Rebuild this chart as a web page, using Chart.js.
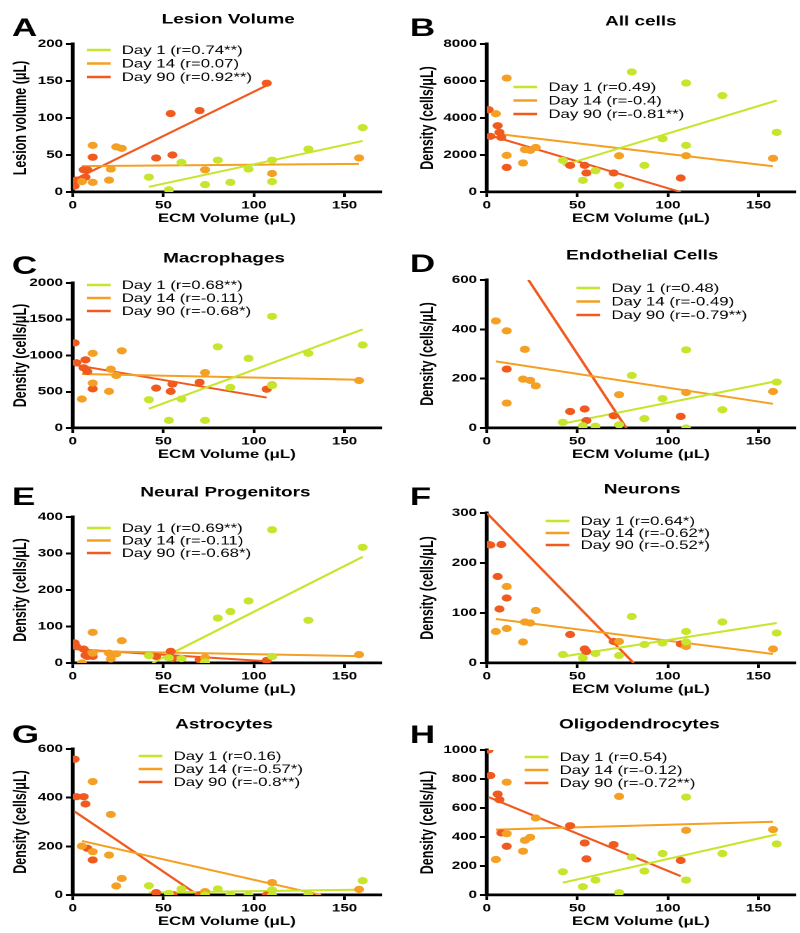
<!DOCTYPE html>
<html>
<head>
<meta charset="utf-8">
<script src="https://cdn.jsdelivr.net/npm/chart.js@4.4.1/dist/chart.umd.min.js"></script>
<style>
  html, body { margin: 0; padding: 0; background: #fff; width: 800px; height: 933px; overflow: hidden; }
  .panel { position: absolute; width: 286px; height: 235px; transform: scaleX(1.4); transform-origin: 0 0; }
</style>
</head>
<body>
<div class="panel" style="left:0;top:0"><canvas id="cA" width="286" height="235"></canvas></div>
<div class="panel" style="left:400px;top:0"><canvas id="cB" width="286" height="235"></canvas></div>
<div class="panel" style="left:0;top:236px"><canvas id="cC" width="286" height="235"></canvas></div>
<div class="panel" style="left:400px;top:236px"><canvas id="cD" width="286" height="235"></canvas></div>
<div class="panel" style="left:0;top:471px"><canvas id="cE" width="286" height="235"></canvas></div>
<div class="panel" style="left:400px;top:471px"><canvas id="cF" width="286" height="235"></canvas></div>
<div class="panel" style="left:0;top:703px"><canvas id="cG" width="286" height="235"></canvas></div>
<div class="panel" style="left:400px;top:703px"><canvas id="cH" width="286" height="235"></canvas></div>
<script>
// ECM volume of each animal (x values), same animals in every panel
const day1Volume = [42, 53, 60, 73, 80, 87, 97, 110, 110, 130, 160];
const day14Volume = [5, 11, 11, 20, 21, 24, 27, 73, 110, 158];
const day90Volume = [1, 2, 6, 7, 8, 11, 46, 54, 55, 70, 107];
const seriesNames = ['Day 1', 'Day 14', 'Day 90'];
const xTicks = [0, 50, 100, 150];

// A - Lesion volume
const lesionDay1 = [20, 3, 40, 10, 43, 13, 31, 14, 43, 58, 87];
const lesionDay14 = [14, 63, 13, 16, 31, 61, 59, 30, 25, 46];
const lesionDay90 = [8, 16, 30, 20, 30, 47, 46, 106, 50, 110, 147];
const lesionFit1 = [[42, 7], [160, 69]];
const lesionFit14 = [[5, 35], [158, 38]];
const lesionFit90 = [[1, 17], [107, 144]];
const lesionR = ['0.74**', '0.07', '0.92**'];
const lesionTicks = [0, 50, 100, 150, 200];

// B - All cells
const allDay1 = [1710, 630, 1150, 360, 6490, 1440, 2880, 2520, 5890, 5210, 3225];
const allDay14 = [4230, 6160, 1980, 1570, 2290, 2250, 2410, 1960, 1960, 1820];
const allDay90 = [4450, 3010, 3585, 3225, 2950, 1330, 1440, 1440, 1030, 1030, 757];
const allFit1 = [[42, 1440], [160, 4950]];
const allFit14 = [[5, 3150], [158, 1390]];
const allFit90 = [[1, 3080], [107, 0]];
const allR = ['0.49', '-0.4', '-0.81**'];
const allTicks = [0, 2000, 4000, 6000, 8000];

// C - Macrophages
const macDay1 = [390, 105, 400, 105, 1120, 560, 960, 1540, 585, 1030, 1145];
const macDay14 = [400, 1030, 620, 505, 810, 725, 1065, 765, 595, 655];
const macDay90 = [1175, 900, 830, 940, 780, 540, 550, 505, 605, 630, 535];
const macFit1 = [[42, 265], [160, 1360]];
const macFit14 = [[5, 745], [158, 665]];
const macFit90 = [[1, 870], [107, 420]];
const macR = ['0.68**', '-0.11', '-0.68*'];
const macTicks = [0, 500, 1000, 1500, 2000];

// D - Endothelial cells
const endoDay1 = [23, 9, 7, 13, 213, 38, 119, 317, 0, 74, 186];
const endoDay14 = [434, 394, 101, 198, 319, 193, 171, 135, 144, 148];
const endoDay90 = [null, null, null, null, null, 239, 67, 77, 30, 50, 47];
const endoFit1 = [[42, 18], [160, 190]];
const endoFit14 = [[5, 270], [158, 98]];
const endoFit90 = [[23, 600], [77, 0]];
const endoR = ['0.48', '-0.49', '-0.79**'];
const endoTicks = [0, 200, 400, 600];

// E - Neural progenitors
const npDay1 = [20, 14, 12, 3, 123, 141, 170, 365, 18, 117, 317];
const npDay14 = [0, 84, 27, 27, 11, 25, 61, 15, 18, 23];
const npDay90 = [55, 45, 38, 21, 18, 18, 18, 32, 12, 9, 7];
const npFit1 = [[44, 0], [160, 291]];
const npFit14 = [[5, 33], [158, 19]];
const npFit90 = [[1, 38], [106, 5]];
const npR = ['0.69**', '-0.11', '-0.68*'];
const npTicks = [0, 100, 200, 300, 400];

// F - Neurons
const neuDay1 = [17, 10, 19, 15, 93, 37, 40, 63, 42, 82, 60];
const neuDay14 = [63, 153, 69, 42, 82, 80, 105, 43, 33, 28];
const neuDay90 = [237, 236, 173, 108, 237, 130, 57, 28, 23, 43, 38];
const neuFit1 = [[42, 13], [160, 80]];
const neuFit14 = [[5, 88], [158, 18]];
const neuFit90 = [[0, 300], [81, 0]];
const neuR = ['0.64*', '-0.62*', '-0.52*'];
const neuTicks = [0, 100, 200, 300];

// G - Astrocytes
const astDay1 = [38, 7, 25, 0, 25, 0, 0, 21, 0, 0, 59];
const astDay14 = [201, 466, 178, 164, 331, 37, 68, 14, 51, 23];
const astDay90 = [558, 404, 404, 374, 192, 144, 10, 0, 2, 0, 0];
const astFit1 = [[42, 10], [160, 22]];
const astFit14 = [[5, 222], [137, 0]];
const astFit90 = [[1, 343], [69, 0]];
const astR = ['0.16', '-0.57*', '-0.8**'];
const astTicks = [0, 200, 400, 600];

// H - Oligodendrocytes
const oliDay1 = [160, 57, 103, 16, 261, 165, 286, 675, 103, 286, 352];
const oliDay14 = [245, 778, 423, 302, 377, 398, 531, 680, 446, 451];
const oliDay90 = [1000, 824, 696, 657, 428, 336, 478, 359, 249, 348, 238];
const oliFit1 = [[42, 85], [160, 418]];
const oliFit14 = [[5, 451], [158, 505]];
const oliFit90 = [[1, 675], [107, 130]];
const oliR = ['0.54', '-0.12', '-0.72**'];
const oliTicks = [0, 200, 400, 600, 800, 1000];

const colors = ['#c6e52c', '#f4a024', '#f05a1e'];
const family = "'Liberation Sans', Arial, Helvetica, sans-serif";

// layout of each panel (canvas units, before the horizontal stretch)
const panels = [
    {id: 'cA', letter: 'A', title: 'Lesion Volume', yTitle: 'Lesion volume (μL)', ticks: lesionTicks,
     ys: [lesionDay1, lesionDay14, lesionDay90], fits: [lesionFit1, lesionFit14, lesionFit90], r: lesionR,
     right: false, top: 44, titleX: 163, titleY: 20, letterY: 36, legX: 62, legY: 50, legGap: 13.5},
    {id: 'cB', letter: 'B', title: 'All cells', yTitle: 'Density (cells/μL)', ticks: allTicks,
     ys: [allDay1, allDay14, allDay90], fits: [allFit1, allFit14, allFit90], r: allR,
     right: true, top: 44, titleX: 172, titleY: 22, letterY: 36, legX: 81, legY: 87, legGap: 13.5},
    {id: 'cC', letter: 'C', title: 'Macrophages', yTitle: 'Density (cells/μL)', ticks: macTicks,
     ys: [macDay1, macDay14, macDay90], fits: [macFit1, macFit14, macFit90], r: macR,
     right: false, top: 47, titleX: 160, titleY: 23, letterY: 38, legX: 62, legY: 49, legGap: 13},
    {id: 'cD', letter: 'D', title: 'Endothelial Cells', yTitle: 'Density (cells/μL)', ticks: endoTicks,
     ys: [endoDay1, endoDay14, endoDay90], fits: [endoFit1, endoFit14, endoFit90], r: endoR,
     right: true, top: 44, titleX: 173, titleY: 20, letterY: 36, legX: 126, legY: 52, legGap: 13.5},
    {id: 'cE', letter: 'E', title: 'Neural Progenitors', yTitle: 'Density (cells/μL)', ticks: npTicks,
     ys: [npDay1, npDay14, npDay90], fits: [npFit1, npFit14, npFit90], r: npR,
     right: false, top: 46, titleX: 161, titleY: 22, letterY: 34, legX: 62, legY: 57, legGap: 12.5},
    {id: 'cF', letter: 'F', title: 'Neurons', yTitle: 'Density (cells/μL)', ticks: neuTicks,
     ys: [neuDay1, neuDay14, neuDay90], fits: [neuFit1, neuFit14, neuFit90], r: neuR,
     right: true, top: 42, titleX: 173, titleY: 19, letterY: 34, legX: 104, legY: 50, legGap: 12},
    {id: 'cG', letter: 'G', title: 'Astrocytes', yTitle: 'Density (cells/μL)', ticks: astTicks,
     ys: [astDay1, astDay14, astDay90], fits: [astFit1, astFit14, astFit90], r: astR,
     right: false, top: 46, titleX: 160, titleY: 22, letterY: 40, legX: 99, legY: 53, legGap: 13},
    {id: 'cH', letter: 'H', title: 'Oligodendrocytes', yTitle: 'Density (cells/μL)', ticks: oliTicks,
     ys: [oliDay1, oliDay14, oliDay90], fits: [oliFit1, oliFit14, oliFit90], r: oliR,
     right: true, top: 47, titleX: 171, titleY: 22, letterY: 40, legX: 89, legY: 54, legGap: 13}
];

// panel letter, title and line legend
const panelText = {
    id: 'panelText',
    afterDraw(chart, args, o) {
        const ctx = chart.ctx;
        ctx.save();
        ctx.fillStyle = '#000';
        ctx.textAlign = 'left';
        ctx.textBaseline = 'alphabetic';
        ctx.font = `bold 25px ${family}`;
        ctx.fillText(o.letter, o.right ? 7 : 8.5, o.letterY);

        ctx.textAlign = 'center';
        ctx.textBaseline = 'middle';
        ctx.font = `bold 13.5px ${family}`;
        ctx.fillText(o.title, o.titleX, o.titleY);

        ctx.textAlign = 'left';
        ctx.font = `12px ${family}`;
        o.labels.forEach((text, i) => {
            const y = o.legY + i * o.legGap;
            ctx.strokeStyle = colors[i];
            ctx.lineWidth = 2.5;
            ctx.beginPath();
            ctx.moveTo(o.legX, y);
            ctx.lineTo(o.legX + 17, y);
            ctx.stroke();
            ctx.fillStyle = '#000';
            ctx.fillText(text, o.legX + 25, y + 0.5);
        });
        ctx.restore();
    }
};

const volumes = [day1Volume, day14Volume, day90Volume];

panels.forEach(p => {
    const datasets = [];
    p.fits.forEach((fit, i) => {
        datasets.push({
            type: 'line',
            data: fit.map(([x, y]) => ({x, y})),
            borderColor: colors[i],
            borderWidth: 2,
            pointRadius: 0,
            fill: false,
            order: 2
        });
    });
    p.ys.forEach((ys, i) => {
        datasets.push({
            type: 'scatter',
            data: volumes[i].map((x, k) => ({x, y: ys[k]})).filter(d => d.y !== null),
            backgroundColor: colors[i],
            borderWidth: 0,
            pointRadius: 3.6,
            pointHoverRadius: 3.6,
            order: 1
        });
    });

    const tickFont = {family, weight: 'bold', size: 10.8};
    new Chart(document.getElementById(p.id), {
        type: 'scatter',
        data: {datasets},
        plugins: [panelText],
        options: {
            responsive: false,
            animation: false,
            devicePixelRatio: 2,
            events: [],
            layout: {padding: {left: 0, top: p.top, right: p.right ? 4 : 14, bottom: 3}},
            plugins: {
                legend: {display: false},
                tooltip: {enabled: false},
                panelText: {
                    letter: p.letter, title: p.title, right: p.right,
                    titleX: p.titleX, titleY: p.titleY, letterY: p.letterY,
                    legX: p.legX, legY: p.legY, legGap: p.legGap,
                    labels: seriesNames.map((n, i) => `${n} (r=${p.r[i]})`)
                }
            },
            scales: {
                x: {
                    type: 'linear', min: 0, max: 170,
                    afterBuildTicks: s => { s.ticks = xTicks.map(v => ({value: v})); },
                    afterFit: s => { s.height = 40; },
                    grid: {drawOnChartArea: false, drawTicks: true, tickLength: 5, color: '#000', lineWidth: 2},
                    border: {color: '#000', width: 2.8},
                    ticks: {color: '#000', font: tickFont, padding: 2, maxRotation: 0, autoSkip: false,
                            callback: v => String(v)},
                    title: {display: true, text: 'ECM Volume (μL)', color: '#000',
                            font: {family, weight: 'bold', size: 12}, padding: {top: 0, bottom: 6}}
                },
                y: {
                    type: 'linear', min: 0, max: p.ticks[p.ticks.length - 1],
                    afterBuildTicks: s => { s.ticks = p.ticks.map(v => ({value: v})); },
                    afterFit: s => { s.width = p.right ? 62 : 52; },
                    grid: {drawOnChartArea: false, drawTicks: true, tickLength: 5, color: '#000', lineWidth: 2},
                    border: {color: '#000', width: 2.8},
                    ticks: {color: '#000', font: tickFont, padding: 2, autoSkip: false,
                            callback: v => String(v)},
                    title: {display: true, text: p.yTitle, color: '#000',
                            font: {family, weight: 'bold', size: 12.5}, padding: {top: p.right ? 12.5 : 7.5, bottom: 0}}
                }
            }
        }
    });
});
</script>
</body>
</html>
